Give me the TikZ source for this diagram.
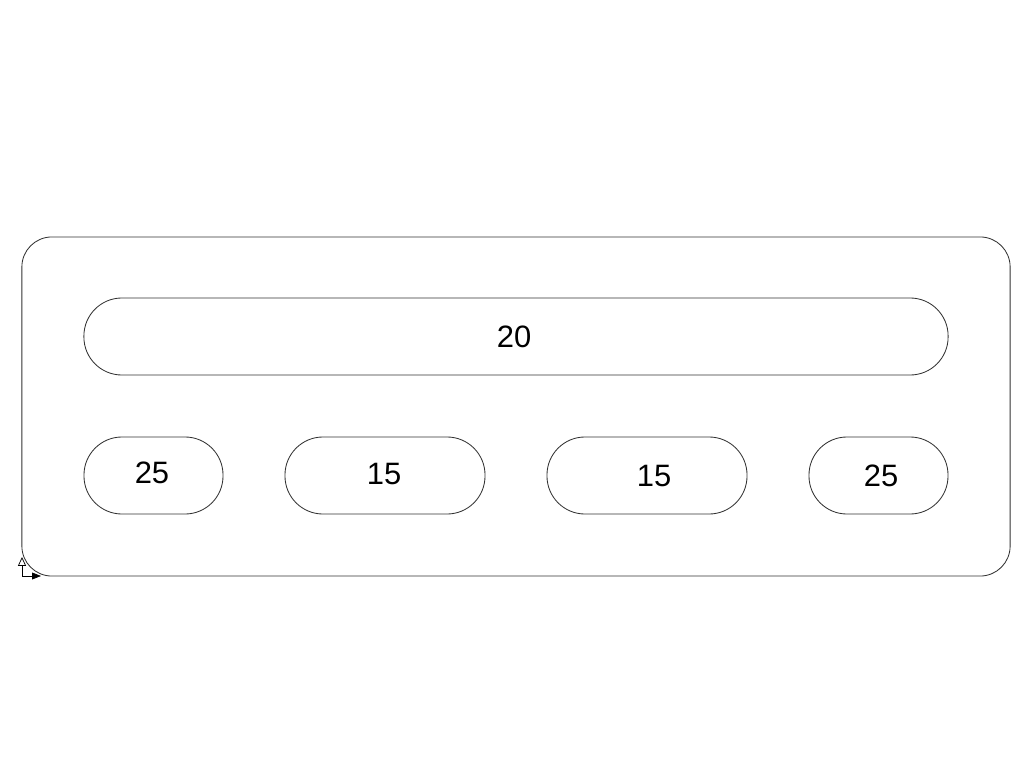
\documentclass[tikz,border=0pt]{standalone}
\usepackage{fontspec}
\setmainfont{Liberation Sans}
\usetikzlibrary{arrows.meta}
\begin{document}
\begin{tikzpicture}
[x=0.025cm,y=-0.025cm,
  platedecorate/.style={shape=rectangle,draw=black!80,line width=0.6pt,rounded corners=0.75cm,inner sep=0pt},
  slotdecorate/.style={shape=rectangle,draw=black!80,line width=0.6pt,rounded corners=0.95cm,minimum height=1.925cm,inner sep=0pt},
  labeldecorate/.style={font=\fontsize{22}{26}\selectfont,inner sep=0pt},
  axisdecorate/.style={line width=0.5pt}]
\useasboundingbox (0,0) rectangle (1024,768);
% plate
\node (plate) at (516,406.5) [platedecorate,minimum width=24.7cm,minimum height=8.475cm] {};
% slots
\node (top) at (516,336.5) [slotdecorate,minimum width=21.6cm] {};
\node [labeldecorate] at (514,337) {20};
\node (s1) at (153.5,475.5) [slotdecorate,minimum width=3.475cm] {};
\node [labeldecorate] at (152,473) {25};
\node (s2) at (385,475.5) [slotdecorate,minimum width=5cm] {};
\node [labeldecorate] at (384,474) {15};
\node (s3) at (647,475.5) [slotdecorate,minimum width=5cm] {};
\node [labeldecorate] at (654,476) {15};
\node (s4) at (878.5,475.5) [slotdecorate,minimum width=3.475cm] {};
\node [labeldecorate] at (881,476) {25};
% axis icon
\coordinate (ucs) at (22,576);
\draw[axisdecorate,-{Triangle[open,length=0.22cm,width=0.2cm]}] (ucs) -- ++(0,-19);
\draw[axisdecorate,-{Triangle[length=0.22cm,width=0.17cm]}] (ucs) -- ++(19,0);
\end{tikzpicture}
\end{document}
